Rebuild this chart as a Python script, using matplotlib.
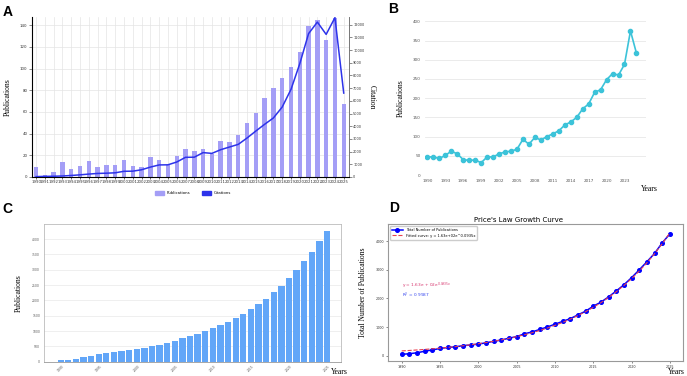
import numpy as np
import matplotlib.pyplot as plt
from matplotlib.patches import Patch

W, H = 687, 376
SERIF = 'Liberation Serif'

years = np.arange(1990, 2026)
# panel A
pubs_a = [9, 2, 5, 14, 7, 10, 15, 9, 11, 11, 16, 10, 9, 18, 16, 11, 19, 26, 24,
          26, 21, 33, 32, 39, 50, 59, 73, 82, 91, 101, 115, 139, 145, 126, 147, 67]
citations = [30, 50, 60, 80, 120, 170, 230, 280, 300, 330, 450, 460, 570, 780,
             950, 960, 1180, 1550, 1560, 1920, 1860, 2150, 2360, 2570, 3070, 3620,
             4150, 4650, 5510, 6900, 8920, 11290, 12200, 11230, 12550, 6610]
# panel B
pubs_b = [47, 47, 43, 51, 62, 55, 40, 38, 39, 32, 47, 47, 55, 60, 62, 67, 93, 80,
          98, 91, 100, 107, 115, 130, 138, 150, 172, 185, 215, 222, 248, 264, 260,
          288, 375, 317]
# panels C and D (cumulative)
cumulative = [43, 65, 98, 152, 196, 250, 283, 304, 348, 370, 402, 446, 500, 543,
              609, 663, 761, 826, 913, 1000, 1098, 1196, 1293, 1424, 1554, 1728,
              1870, 2054, 2261, 2478, 2728, 3000, 3283, 3576, 3946, 4261]
fit_a, fit_b = 163, 0.0935
r2 = 0.9987

fig = plt.figure(figsize=(W / 100, H / 100), dpi=100)


def px_axes(l, t, r, b):
    return fig.add_axes([l / W, 1 - b / H, (r - l) / W, (b - t) / H])


def letter(x, y, s):
    fig.text(x / W, 1 - y / H, s, fontsize=10, fontweight='bold',
             family='Liberation Sans', va='top', ha='left')


# ---------------- A ----------------
axA = px_axes(31.7, 17, 349, 177)
xa = np.arange(len(years))
axA.bar(xa, pubs_a, width=0.5, color='#a49ef6', zorder=2)
axA.set_xlim(-0.5, 35.6)
axA.set_ylim(0, 147.5)
axA.set_yticks(range(0, 141, 20))
axA.set_xticks(xa)
axA.set_xticklabels(years, fontsize=2.8, color='#333333')
axA.tick_params(axis='y', labelsize=2.8, length=2, width=0.4, pad=1, colors='#333333')
axA.tick_params(axis='x', length=1.5, width=0.4, pad=1)
axA.grid(True, color='#e4e4e4', lw=0.5, zorder=0)
axA.set_axisbelow(True)
axA.set_ylabel('Publications', family=SERIF, fontsize=5.5, labelpad=6)
axA.spines['top'].set_visible(False)
for s in ['left', 'right', 'bottom']:
    axA.spines[s].set_color('#777777')
    axA.spines[s].set_linewidth(0.6)
axA2 = axA.twinx()
axA2.plot(xa, citations, color='#2d33ea', lw=1.1, zorder=3)
axA2.set_ylim(0, 12600)
axA2.set_yticks(range(0, 12001, 1000))
axA2.tick_params(axis='y', labelsize=2.5, length=2, width=0.4, pad=1, colors='#333333')
axA2.spines['top'].set_visible(False)
axA2.spines['right'].set_color('#777777')
axA2.spines['right'].set_linewidth(0.6)
axA2.set_ylabel('Citation', family=SERIF, fontsize=5.5, rotation=270, labelpad=8)
fig.legend(handles=[Patch(color='#a49ef6', label='Publications'),
                    Patch(color='#2d33ea', label='Citations')],
           loc='center', bbox_to_anchor=(193 / W, 1 - 193 / H), ncol=2,
           frameon=False, fontsize=2.8, handlelength=2.2, handleheight=1.3,
           columnspacing=3)
letter(3, 5, 'A')

# ---------------- B ----------------
axB = px_axes(425, 21.3, 646, 175)
axB.plot(years, pubs_b, color='#3cc3d9', lw=1.2, marker='o', ms=3)
axB.set_xlim(1989.6, 2026.6)
axB.set_ylim(0, 400)
axB.set_yticks(range(0, 401, 50))
axB.set_xticks(range(1990, 2024, 3))
axB.tick_params(labelsize=3, length=0, pad=3, colors='#555555')
axB.grid(True, axis='y', color='#e8e8e8', lw=0.6)
axB.set_axisbelow(True)
for s in axB.spines.values():
    s.set_visible(False)
axB.set_ylabel('Publications', family=SERIF, fontsize=5.5, labelpad=6)
fig.text(649 / W, 1 - 189 / H, 'Years', family=SERIF, fontsize=5.5,
         ha='center', va='center')
letter(388, 2, 'B')

# ---------------- C ----------------
axC = px_axes(44.3, 223.7, 340.7, 361.7)
axC.bar(years, cumulative, width=0.83, color='#62a6f8', zorder=2)
axC.set_xlim(1987.85, 2026.8)
axC.set_ylim(0, 4500)
axC.set_yticks(range(0, 4001, 500))
axC.set_xticks(range(1990, 2026, 5))
axC.tick_params(axis='x', labelsize=2.2, rotation=45, length=0, pad=2, colors='#555555')
axC.tick_params(axis='y', labelsize=2.2, length=0, pad=3, colors='#555555')
axC.grid(True, axis='y', color='#ececec', lw=0.6, zorder=0)
axC.set_axisbelow(True)
for s in ['top', 'left', 'right']:
    axC.spines[s].set_color('#bbbbbb')
    axC.spines[s].set_linewidth(0.6)
axC.spines['bottom'].set_color('#999999')
axC.spines['bottom'].set_linewidth(0.6)
axC.set_ylabel('Publications', family=SERIF, fontsize=5.5, labelpad=7)
fig.text(339 / W, 1 - 372.5 / H, 'Years', family=SERIF, fontsize=5.5,
         ha='center', va='center')
letter(2, 202, 'C')

# ---------------- D ----------------
axD = px_axes(388.3, 224.3, 683.3, 361)
fit = fit_a * np.exp(fit_b * (years - 1990))
axD.plot(years, cumulative, color='blue', lw=1.1, marker='o', ms=2.6,
         label='Total Number of Publications', zorder=2)
axD.plot(years, fit, color='#e8404f', lw=0.8, ls='--',
         label='Fitted curve: y = 1.63e+02e^0.0935x', zorder=3)
axD.set_xlim(1988.25, 2026.75)
axD.set_ylim(-190, 4595)
axD.set_yticks(range(0, 4001, 1000))
axD.set_xticks(range(1990, 2026, 5))
axD.tick_params(labelsize=2.4, length=1.5, width=0.4, pad=1.5, colors='#333333')
for s in axD.spines.values():
    s.set_color('#999999')
    s.set_linewidth(0.8)
axD.legend(loc='upper left', fontsize=2.6, handlelength=3, borderpad=0.5,
           framealpha=1, edgecolor='#cccccc')
axD.text(1990, 2440, r'y = 1.63e + 02e$^{0.0935x}$', color='#d6336c', fontsize=3.1,
         va='center')
axD.text(1990, 2120, r'R$^2$ = 0.9987', color='#3344ee', fontsize=3.1, va='center')
axD.set_ylabel('Total Number of Publications', family=SERIF, fontsize=5.5, labelpad=6)
fig.text(518.5 / W, 1 - 220.5 / H, "Price's Law Growth Curve", fontsize=5,
         ha='center', va='center')
fig.text(676 / W, 1 - 372.5 / H, 'Years', family=SERIF, fontsize=5.5,
         ha='center', va='center')
letter(389, 201, 'D')

fig.savefig('out.png', dpi=100)
